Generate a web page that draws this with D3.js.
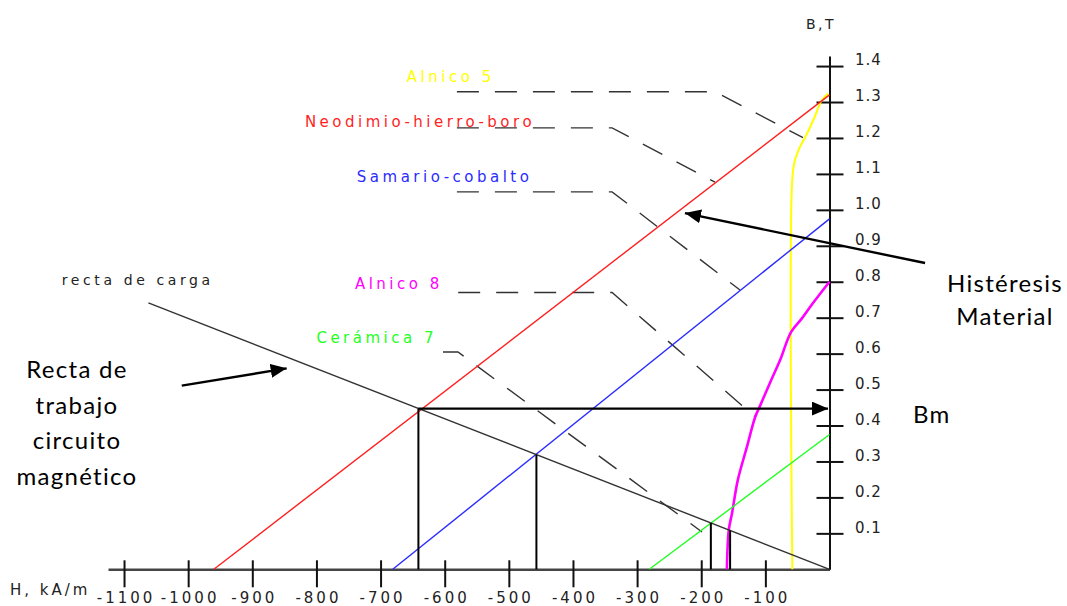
<!DOCTYPE html>
<html lang="es">
<head>
<meta charset="UTF-8">
<title>Curvas de desmagnetización y recta de carga</title>
<script src="https://d3js.org/d3.v7.min.js"></script>
<style>
  body { margin: 0; background: #fff; }
  svg { display: block; }
  .bmp { font-family: "DejaVu Sans", "Liberation Sans", sans-serif; }
  .nota { font-family: Lato, "Open Sans", sans-serif; font-size: 24px; letter-spacing: 1.3px; fill: #000; }
</style>
</head>
<body>
<svg width="1067" height="606"></svg>
<script>
// ejes
const hTicks = [-1100, -1000, -900, -800, -700, -600, -500, -400, -300, -200, -100];
const bTicks = [0.1, 0.2, 0.3, 0.4, 0.5, 0.6, 0.7, 0.8, 0.9, 1.0, 1.1, 1.2, 1.3, 1.4];

// materiales (H en kA/m, B en T)
const materiales = ["Alnico 5", "Neodimio-hierro-boro", "Samario-cobalto", "Alnico 8", "Cerámica 7"];
const colores = ["#ffff00", "#ff1f1f", "#2b2bff", "#ff00ff", "#22ff22"];

const alnico5H = [-58, -58, -54, -46, -35, -23, -12, -2];
const alnico5B = [0, 1.087, 1.137, 1.175, 1.212, 1.259, 1.305, 1.324];
const neodimioH = [-960, 0];
const neodimioB = [0, 1.32];
const samarioH = [-681, 0];
const samarioB = [0, 0.975];
const alnico8H = [-160, -157, -152, -143, -129, -116, -108, -91, -77, -60, -43, -26, 0];
const alnico8B = [0, 0.11, 0.156, 0.248, 0.339, 0.423, 0.456, 0.526, 0.582, 0.66, 0.698, 0.74, 0.80];
const ceramicaH = [-281, 0];
const ceramicaB = [0, 0.375];

// recta de carga y puntos de trabajo
const rectaH = [-1062, 0];
const rectaB = [0.741, 0];
const puntosH = [-641, -457, -185, -155];
const puntosB = [0.447, 0.319, 0.129, 0.108];

// líneas guía (discontinuas) de cada etiqueta
const guiaH = [
  [-581, -178.5, -41.3],
  [-581, -339, -178.5],
  [-581, -339, -139.6],
  [-579, -339, -116.2],
  [-602.7, -579.3, -198.8]
];
const guiaB = [
  [1.3285, 1.3285, 1.201],
  [1.228, 1.228, 1.077],
  [1.05, 1.05, 0.777],
  [0.77, 0.77, 0.4245],
  [0.6045, 0.6045, 0.1038]
];
const etiquetaH = [-659, -818, -737, -740, -800];
const etiquetaB = [1.370, 1.245, 1.092, 0.794, 0.643];

const svg = d3.select("svg");
const x = d3.scaleLinear().domain([-1125, 0]).range([108, 829.5]);
const y = d3.scaleLinear().domain([0, 1.428]).range([569.3, 56]);
const line = d3.line().x(d => x(d[0])).y(d => y(d[1]));
const curva = d3.line().x(d => x(d[0])).y(d => y(d[1])).curve(d3.curveCatmullRom.alpha(0.5));
const zip = (a, b) => a.map((v, i) => [v, b[i]]);

svg.append("defs").append("marker")
   .attr("id", "flecha")
   .attr("viewBox", "0 0 16 14")
   .attr("refX", 16).attr("refY", 7)
   .attr("markerWidth", 16).attr("markerHeight", 14)
   .attr("markerUnits", "userSpaceOnUse")
   .attr("orient", "auto")
   .append("path").attr("d", "M0,0L16,7L0,14Z").attr("fill", "#000");

// guías
guiaH.forEach((hs, i) => {
  svg.append("path")
     .attr("d", line(zip(hs, guiaB[i])))
     .attr("fill", "none")
     .attr("stroke", "#333")
     .attr("stroke-width", 1.4)
     .attr("stroke-dasharray", "22,16");
});

// eje H
const gx = svg.append("g")
   .attr("transform", `translate(0,${y(0)})`)
   .call(d3.axisBottom(x).tickValues(hTicks).tickSizeOuter(0).tickFormat(d => String(d)));
gx.select(".domain").attr("stroke", "#444").attr("stroke-width", 2.5);
gx.selectAll(".tick line").attr("y1", -9).attr("y2", 18).attr("stroke", "#111").attr("stroke-width", 2);
gx.selectAll(".tick text")
  .attr("x", 1.5).attr("y", 23).attr("dy", "0.71em")
  .attr("class", "bmp")
  .style("font-size", "15px").style("letter-spacing", "3px").attr("fill", "#222");

// eje B
const gy = svg.append("g")
   .attr("transform", `translate(${x(0)},0)`)
   .call(d3.axisRight(y).tickValues(bTicks).tickSizeOuter(0).tickFormat(d3.format(".1f")));
gy.select(".domain").attr("stroke", "#111").attr("stroke-width", 2);
gy.selectAll(".tick line").attr("x1", -13).attr("x2", 14).attr("stroke", "#111").attr("stroke-width", 2);
gy.selectAll(".tick text")
  .attr("x", 25.5).attr("y", -6).attr("dy", "0.32em")
  .attr("class", "bmp")
  .style("font-size", "15px").style("letter-spacing", "1px").attr("fill", "#222");

svg.append("text").attr("class", "bmp")
   .attr("x", 10).attr("y", 590).attr("dy", "0.35em")
   .style("font-size", "15px").style("letter-spacing", "3px").attr("fill", "#222")
   .text("H, kA/m");
svg.append("text").attr("class", "bmp")
   .attr("x", 821).attr("y", 24).attr("dy", "0.35em").attr("text-anchor", "middle")
   .style("font-size", "14px").style("letter-spacing", "2.5px").attr("fill", "#222")
   .text("B,T");

// curvas
const curvas = [[alnico5H, alnico5B], [neodimioH, neodimioB], [samarioH, samarioB], [alnico8H, alnico8B], [ceramicaH, ceramicaB]];
const grosor = [2, 1.4, 1.4, 2.6, 1.4];
curvas.forEach(([hs, bs], i) => {
  svg.append("path")
     .attr("d", (hs.length > 2 ? curva : line)(zip(hs, bs)))
     .attr("fill", "none")
     .attr("stroke", colores[i])
     .attr("stroke-width", grosor[i]);
});

// recta de carga
svg.append("path")
   .attr("d", line(zip(rectaH, rectaB)))
   .attr("fill", "none").attr("stroke", "#333").attr("stroke-width", 1.4);

// puntos de trabajo
svg.selectAll(".vert")
   .data(zip(puntosH, puntosB))
   .enter().append("line")
   .attr("class", "vert")
   .attr("x1", d => x(d[0])).attr("x2", d => x(d[0]))
   .attr("y1", d => y(d[1])).attr("y2", y(0))
   .attr("stroke", "#000").attr("stroke-width", 2);

// flechas de anotación
const flechas = [
  [[puntosH[0], puntosB[0]], [-2.3, puntosB[0]]],
  [[149, 0.852], [-225.4, 0.991]],
  [[-1010, 0.511], [-846.4, 0.559]]
];
flechas.forEach(f => {
  svg.append("path")
     .attr("d", line(f))
     .attr("stroke", "#000").attr("stroke-width", 2.4)
     .attr("marker-end", "url(#flecha)");
});

// etiquetas de materiales
materiales.forEach((m, i) => {
  svg.append("text").attr("class", "bmp")
     .attr("x", x(etiquetaH[i])).attr("y", y(etiquetaB[i])).attr("dy", "0.35em")
     .style("font-size", "15px").style("letter-spacing", "3.5px")
     .attr("fill", colores[i])
     .text(m);
});
svg.append("text").attr("class", "bmp")
   .attr("x", x(-1197)).attr("y", y(0.805)).attr("dy", "0.35em")
   .style("font-size", "14px").style("letter-spacing", "3.6px").attr("fill", "#222")
   .text("recta de carga");

// notas
const notaDer = ["Histéresis", "Material"];
notaDer.forEach((t, i) => {
  svg.append("text").attr("class", "nota")
     .attr("x", 1005).attr("y", 291.7 + i * 33.5).attr("text-anchor", "middle").text(t);
});
svg.append("text").attr("class", "nota").attr("x", 913).attr("y", 423).text("Bm");
const notaIzq = ["Recta de", "trabajo", "circuito", "magnético"];
notaIzq.forEach((t, i) => {
  svg.append("text").attr("class", "nota")
     .attr("x", 77).attr("y", 378.3 + i * 35.5).attr("text-anchor", "middle").text(t);
});
</script>
</body>
</html>
